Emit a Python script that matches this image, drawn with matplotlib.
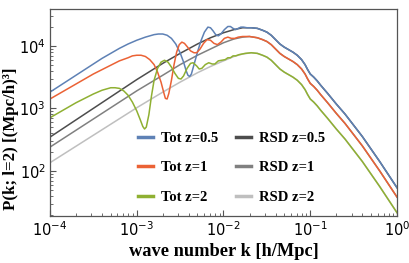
import numpy as np
import matplotlib
matplotlib.use("Agg")
import matplotlib.pyplot as plt
from matplotlib.ticker import LogLocator, NullFormatter

# curves, log10(k [h/Mpc]) and log10(P)
tot05_logk = [-4.00, -3.90, -3.80, -3.70, -3.60, -3.50, -3.40, -3.30, -3.20, -3.10, -3.00, -2.90,
              -2.80, -2.75, -2.70, -2.65, -2.60, -2.55, -2.50, -2.46, -2.43, -2.41, -2.39, -2.37,
              -2.34, -2.30, -2.26, -2.22, -2.18, -2.15, -2.12, -2.09, -2.06, -2.03, -1.99, -1.95,
              -1.92, -1.89, -1.86, -1.83, -1.80, -1.77, -1.73, -1.68, -1.61, -1.55, -1.50, -1.45,
              -1.40, -1.35, -1.30, -1.25, -1.20, -1.15, -1.10, -1.06, -1.03, -1.00, -0.96, -0.92,
              -0.88, -0.80, -0.70, -0.60, -0.50, -0.40, -0.30, -0.20, -0.10, 0.00]
tot05_logp = [3.26, 3.35, 3.44, 3.53, 3.62, 3.71, 3.80, 3.88, 3.96, 4.03, 4.09, 4.14,
              4.18, 4.19, 4.19, 4.17, 4.12, 4.03, 3.89, 3.74, 3.60, 3.53, 3.51, 3.55,
              3.70, 3.90, 4.08, 4.22, 4.30, 4.29, 4.24, 4.18, 4.16, 4.19, 4.26, 4.31,
              4.31, 4.28, 4.26, 4.28, 4.30, 4.30, 4.29, 4.29, 4.28, 4.25, 4.22, 4.17,
              4.10, 4.03, 3.98, 3.94, 3.90, 3.85, 3.78, 3.70, 3.62, 3.55, 3.50, 3.44,
              3.37, 3.24, 3.07, 2.91, 2.73, 2.55, 2.35, 2.15, 1.94, 1.73]

tot1_logk = [-4.00, -3.90, -3.80, -3.70, -3.60, -3.50, -3.40, -3.30, -3.20, -3.10, -3.05, -3.00,
             -2.95, -2.90, -2.85, -2.80, -2.76, -2.72, -2.69, -2.67, -2.65, -2.63, -2.60, -2.57,
             -2.54, -2.51, -2.48, -2.45, -2.42, -2.38, -2.34, -2.31, -2.27, -2.23, -2.19, -2.15,
             -2.11, -2.07, -2.03, -1.99, -1.95, -1.91, -1.87, -1.83, -1.78, -1.70, -1.61, -1.55,
             -1.50, -1.45, -1.40, -1.35, -1.30, -1.25, -1.20, -1.15, -1.10, -1.06, -1.03, -1.00,
             -0.96, -0.92, -0.88, -0.80, -0.70, -0.60, -0.50, -0.40, -0.30, -0.20, -0.10, 0.00]
tot1_logp = [3.15, 3.23, 3.31, 3.39, 3.47, 3.55, 3.62, 3.69, 3.76, 3.81, 3.84, 3.85,
             3.85, 3.83, 3.78, 3.70, 3.58, 3.42, 3.26, 3.16, 3.15, 3.24, 3.45, 3.70,
             3.90, 4.02, 4.06, 4.04, 3.99, 3.92, 3.89, 3.89, 3.95, 4.04, 4.10, 4.09,
             4.04, 4.02, 4.06, 4.12, 4.14, 4.12, 4.12, 4.14, 4.15, 4.15, 4.13, 4.10,
             4.07, 4.02, 3.95, 3.88, 3.83, 3.79, 3.75, 3.70, 3.63, 3.55, 3.47, 3.40,
             3.35, 3.29, 3.22, 3.09, 2.92, 2.76, 2.58, 2.40, 2.20, 2.00, 1.79, 1.58]

tot2_logk = [-4.00, -3.90, -3.80, -3.70, -3.60, -3.50, -3.40, -3.30, -3.25, -3.20, -3.15, -3.10,
             -3.05, -3.00, -2.96, -2.93, -2.91, -2.89, -2.86, -2.83, -2.80, -2.76, -2.72, -2.68,
             -2.64, -2.60, -2.56, -2.52, -2.49, -2.46, -2.42, -2.38, -2.35, -2.31, -2.28, -2.25,
             -2.21, -2.17, -2.13, -2.10, -2.06, -2.02, -1.98, -1.95, -1.92, -1.89, -1.86, -1.82,
             -1.75, -1.68, -1.61, -1.55, -1.50, -1.45, -1.40, -1.35, -1.30, -1.25, -1.20, -1.15,
             -1.10, -1.06, -1.03, -1.00, -0.96, -0.92, -0.88, -0.80, -0.70, -0.60, -0.50, -0.40,
             -0.30, -0.20, -0.10, 0.00]
tot2_logp = [2.85, 2.93, 3.01, 3.09, 3.16, 3.23, 3.29, 3.33, 3.33, 3.32, 3.28, 3.21,
             3.10, 2.96, 2.82, 2.71, 2.67, 2.70, 2.90, 3.20, 3.45, 3.64, 3.74, 3.77,
             3.74, 3.66, 3.56, 3.48, 3.47, 3.52, 3.64, 3.72, 3.73, 3.68, 3.63, 3.64,
             3.70, 3.73, 3.71, 3.71, 3.76, 3.77, 3.78, 3.81, 3.81, 3.84, 3.84, 3.86,
             3.88, 3.89, 3.88, 3.85, 3.82, 3.77, 3.70, 3.63, 3.58, 3.54, 3.50, 3.45,
             3.38, 3.30, 3.22, 3.15, 3.10, 3.04, 2.97, 2.84, 2.67, 2.51, 2.33, 2.15,
             1.95, 1.75, 1.54, 1.33]

# RSD-only curves up to where they join the totals
rsd05_logk = [-4.00, -3.50, -3.00, -2.70, -2.50, -2.30, -2.15, -2.00, -1.88, -1.78, -1.68]
rsd05_logp = [2.54, 3.00, 3.46, 3.72, 3.88, 4.03, 4.13, 4.21, 4.26, 4.29, 4.29]
rsd1_logk = [-4.00, -3.50, -3.00, -2.70, -2.50, -2.30, -2.15, -2.00, -1.88, -1.78, -1.70]
rsd1_logp = [2.38, 2.83, 3.28, 3.53, 3.70, 3.85, 3.95, 4.05, 4.11, 4.14, 4.15]
rsd2_logk = [-4.00, -3.50, -3.00, -2.70, -2.50, -2.30, -2.15, -2.00, -1.88, -1.78, -1.68]
rsd2_logp = [2.13, 2.57, 3.01, 3.26, 3.42, 3.57, 3.67, 3.76, 3.83, 3.87, 3.89]

labels_tot = ["Tot z=0.5", "Tot z=1", "Tot z=2"]
labels_rsd = ["RSD z=0.5", "RSD z=1", "RSD z=2"]
col_tot = ["#5E81B5", "#EB6235", "#8FB032"]
col_rsd = ["#4D4D4D", "#808080", "#BFBFBF"]

plt.rcParams["mathtext.fontset"] = "custom"
plt.rcParams["mathtext.rm"] = "Liberation Sans:bold"
plt.rcParams["mathtext.bf"] = "Liberation Sans:bold"


def tail(logk, logp, start):
    # high-k part where RSD and total coincide
    logk = np.array(logk)
    logp = np.array(logp)
    m = logk > start
    return logk[m], logp[m]


fig = plt.figure(figsize=(4.09, 2.63), dpi=100)
ax = fig.add_axes([0.1222, 0.179, 0.8485, 0.787])

tots = [(tot05_logk, tot05_logp), (tot1_logk, tot1_logp), (tot2_logk, tot2_logp)]
rsds = [(rsd05_logk, rsd05_logp), (rsd1_logk, rsd1_logp), (rsd2_logk, rsd2_logp)]

rsd_handles = []
for (rk, rp), (tk, tp), c, lab in zip(rsds, tots, col_rsd, labels_rsd):
    xk, xp = tail(tk, tp, rk[-1])
    k = np.concatenate([rk, xk])
    p = np.concatenate([rp, xp])
    h, = ax.plot(10**k, 10**p, color=c, lw=1.1, label=lab)
    rsd_handles.append(h)

tot_handles = []
for (tk, tp), c, lab in zip(tots, col_tot, labels_tot):
    h, = ax.plot(10**np.array(tk), 10**np.array(tp), color=c, lw=1.1, label=lab)
    tot_handles.append(h)

ax.set_xscale("log")
ax.set_yscale("log")
ax.set_xlim(1e-4, 1)
ax.set_ylim(19, 3.9e4)

frame_col = "#555555"
for s in ax.spines.values():
    s.set_color(frame_col)
    s.set_linewidth(0.9)

ax.xaxis.set_major_locator(LogLocator(base=10, numticks=10))
ax.xaxis.set_minor_locator(LogLocator(base=10, subs=np.arange(2, 10), numticks=20))
ax.yaxis.set_minor_locator(LogLocator(base=10, subs=np.arange(2, 10), numticks=20))
ax.xaxis.set_minor_formatter(NullFormatter())
ax.yaxis.set_minor_formatter(NullFormatter())
ax.tick_params(which="both", direction="in", top=False, right=False, color=frame_col)
ax.tick_params(which="major", length=4, width=0.8, labelsize=10.5, pad=3)
ax.tick_params(which="minor", length=2, width=0.6)

serif = {"family": "Liberation Serif", "weight": "bold"}
ax.set_xlabel("wave number k [h/Mpc]", fontdict=serif, fontsize=13.2, labelpad=3)
ax.set_ylabel("P(k; l=2) [(Mpc/h)³]", fontdict=serif, fontsize=12.2)
ax.yaxis.set_label_coords(-0.088, 0.375)

handles = tot_handles + rsd_handles
leg = ax.legend(handles=handles, ncol=2, frameon=False, loc="lower left",
                bbox_to_anchor=(0.216, -0.004), prop={"family": "Liberation Serif", "weight": "bold", "size": 10.5},
                handlelength=1.05, handletextpad=0.55, labelspacing=1.1, columnspacing=1.2)
for lh in leg.legend_handles:
    lh.set_linewidth(2.5)

fig.savefig("out.png", dpi=100)
